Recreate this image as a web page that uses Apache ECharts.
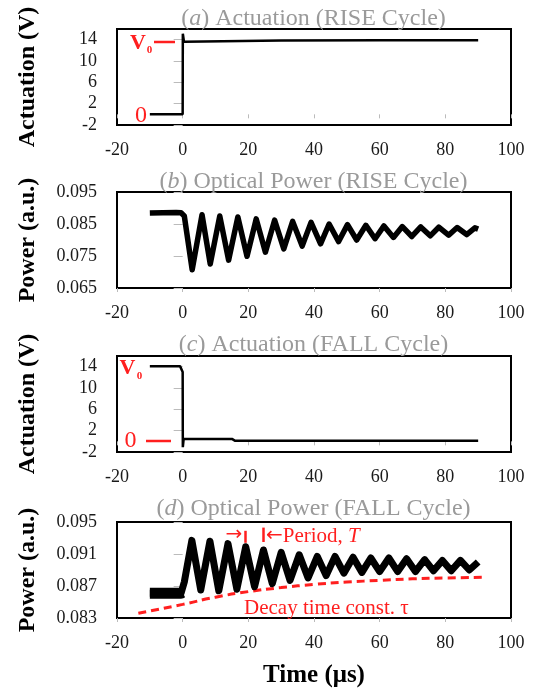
<!DOCTYPE html>
<html><head><meta charset="utf-8">
<script src="https://cdn.jsdelivr.net/npm/echarts@6/dist/echarts.min.js"></script>
<style>html,body{margin:0;padding:0;background:#fff}#c{width:536px;height:691px}</style>
</head><body><div id="c"></div>
<script>
// ---- tick labels ----
const xTicks = [-20, 0, 20, 40, 60, 80, 100];
const actTicks = [-2, 2, 6, 10, 14];
const powRiseTicks = [0.065, 0.075, 0.085, 0.095];
const powFallTicks = [0.083, 0.087, 0.091, 0.095];

// ---- (a) actuation, rise ----
const riseActTime = [-10, 0, 0.05, 0.4, 1, 30, 60, 90];
const riseActVolt = [0, 0, 15.1, 13.6, 13.9, 13.85, 13.9, 13.9];

// ---- (b) optical power, rise ----
const riseOptTime = [-10, -2, -0.5, 0.5, 2.9, 5.9, 8.4, 11.3, 14.0, 16.8, 19.6, 22.4, 25.2, 28.0, 30.8, 33.5, 36.4, 39.1, 42.0, 44.6, 47.5, 50.2, 53.0, 55.8, 58.6, 61.3, 64.2, 66.9, 69.8, 72.5, 75.4, 78.0, 81.0, 83.6, 86.5, 89.0, 90];
const riseOptPow = [0.0884, 0.0886, 0.0885, 0.0875, 0.0707, 0.0879, 0.0725, 0.0875, 0.0737, 0.0872, 0.0749, 0.0866, 0.0762, 0.0862, 0.0772, 0.0858, 0.0781, 0.0855, 0.0788, 0.0850, 0.0795, 0.0848, 0.0800, 0.0846, 0.0804, 0.0844, 0.0808, 0.0842, 0.0811, 0.0841, 0.0813, 0.0840, 0.0815, 0.0839, 0.0817, 0.0838, 0.0834];

// ---- (c) actuation, fall ----
const fallActTime = [-10, -0.8, -0.2, 0, 0.05, 0.3, 15, 16, 50, 90];
const fallActVolt = [14.1, 14.1, 13.8, 13, -1.1, 0.45, 0.45, 0.1, 0.1, 0.1];

// ---- (d) optical power, fall ----
const fallOptTime = [-10, -0.5, 0, 0.5, 2.8, 5.5, 8.3, 11.0, 13.8, 16.5, 19.2, 21.9, 24.6, 27.3, 30.0, 32.7, 35.5, 38.2, 41.0, 43.7, 46.4, 49.1, 51.9, 54.6, 57.3, 60.0, 62.8, 65.5, 68.2, 70.9, 73.7, 76.4, 79.1, 81.8, 84.6, 87.3, 90];
const fallOptPow = [0.0861, 0.0861, 0.0862, 0.0875, 0.0927, 0.0865, 0.0926, 0.0864, 0.0923, 0.0866, 0.0919, 0.0869, 0.0915, 0.0873, 0.0912, 0.0877, 0.0909, 0.0880, 0.0907, 0.0883, 0.0907, 0.0886, 0.0906, 0.0887, 0.0905, 0.0888, 0.0905, 0.0888, 0.0904, 0.0888, 0.0903, 0.0889, 0.0902, 0.0889, 0.0902, 0.0890, 0.0900];

// ---- decay envelope (dashed) ----
const decayTime = [-13.5, 0, 10, 20, 30, 40, 50, 60, 70, 80, 91.5];
const decayPow = [0.0836, 0.0847, 0.0856, 0.0863, 0.0868, 0.0872, 0.0875, 0.0877, 0.0879, 0.0880, 0.0881];

// ---- period markers ----
const periodMarkTime = [19.2, 24.6];
const periodMarkTop = [0.0939, 0.0943];
const periodMarkBottom = [0.0924, 0.0925];

const zip = (a, b) => a.map((v, i) => [v, b[i]]);
const SERIF = "'Liberation Serif','Times New Roman',serif";
const RED = '#ff1f1f';

const chart = echarts.init(document.getElementById('c'), null, {renderer: 'canvas'});

const gridTops = [29, 192, 356, 522];
const grids = gridTops.map(t => ({
  left: 117, right: 25, top: t, height: 96,
  show: true, borderColor: '#000', borderWidth: 2, backgroundColor: 'transparent'
}));

const xAxes = gridTops.map((t, i) => ({
  type: 'value', gridIndex: i, min: -20, max: 100, interval: 20,
  axisLine: {show: false},
  axisTick: {show: true, length: 4, lineStyle: {color: '#bbb', width: 1}, customValues: xTicks},
  axisLabel: {fontFamily: SERIF, fontSize: 18, color: '#1a1a1a', margin: 16, customValues: xTicks,
    formatter: v => String(v)},
  splitLine: {show: false},
  name: i === 3 ? 'Time (\u03bcs)' : '',
  nameLocation: 'middle', nameGap: 45,
  nameTextStyle: {fontFamily: SERIF, fontSize: 25, fontWeight: 'bold', color: '#000'}
}));

function yAxis(i, min, max, interval, ticks, name, fmt) {
  return {
    type: 'value', gridIndex: i, min: min, max: max, interval: interval,
    axisLine: {show: false},
    axisTick: {show: true, length: 9, lineStyle: {color: '#bbb', width: 1}, customValues: ticks},
    axisLabel: {fontFamily: SERIF, fontSize: 18, color: '#1a1a1a', margin: 20, customValues: ticks,
      formatter: v => (ticks.some(t => Math.abs(t - v) < 1e-9) ? fmt(v) : '')},
    splitLine: {show: false},
    name: name, nameLocation: 'middle', nameRotate: 90, nameGap: 77,
    nameTextStyle: {fontFamily: SERIF, fontSize: 24, fontWeight: 'bold', color: '#000'}
  };
}

const yAxes = [
  yAxis(0, -2, 16, 4, actTicks, 'Actuation (V)', v => String(v)),
  yAxis(1, 0.065, 0.095, 0.01, powRiseTicks, 'Power (a.u.)', v => v.toFixed(3)),
  yAxis(2, -2, 16, 4, actTicks, 'Actuation (V)', v => String(v)),
  yAxis(3, 0.083, 0.095, 0.004, powFallTicks, 'Power (a.u.)', v => v.toFixed(3))
];

const lineBase = {type: 'line', symbol: 'none', silent: true, animation: false};
const fallPre = zip(fallOptTime, fallOptPow).filter(p => p[0] <= 0);

const series = [
  Object.assign({}, lineBase, {xAxisIndex: 0, yAxisIndex: 0, data: zip(riseActTime, riseActVolt),
    lineStyle: {color: '#000', width: 2.5}}),
  Object.assign({}, lineBase, {xAxisIndex: 1, yAxisIndex: 1, data: zip(riseOptTime, riseOptPow),
    lineStyle: {color: '#000', width: 5.5, join: 'round'}}),
  Object.assign({}, lineBase, {xAxisIndex: 2, yAxisIndex: 2, data: zip(fallActTime, fallActVolt),
    lineStyle: {color: '#000', width: 2.5}}),
  Object.assign({}, lineBase, {xAxisIndex: 3, yAxisIndex: 3, data: zip(fallOptTime, fallOptPow),
    lineStyle: {color: '#000', width: 7, join: 'round'},
    markLine: {silent: true, symbol: ['none', 'none'], animation: false,
      lineStyle: {color: RED, width: 2.5, type: 'solid'}, label: {show: false},
      data: periodMarkTime.map((t, k) => [{coord: [t, periodMarkTop[k]]}, {coord: [t, periodMarkBottom[k]]}])}}),
  Object.assign({}, lineBase, {xAxisIndex: 3, yAxisIndex: 3, data: fallPre,
    lineStyle: {color: '#000', width: 11}}),
  Object.assign({}, lineBase, {xAxisIndex: 3, yAxisIndex: 3, data: zip(decayTime, decayPow), smooth: true,
    lineStyle: {color: RED, width: 3, type: [8, 5]}, z: 1})
];

function txt(x, y, text, opts) {
  const s = Object.assign({text: text, x: x, y: y, fill: '#000', fontFamily: SERIF, fontSize: 20,
    align: 'center', verticalAlign: 'middle'}, opts || {});
  s.textAlign = s.align;
  s.textVerticalAlign = s.verticalAlign;
  return {type: 'text', silent: true, style: s, z: 100};
}
function seg(x1, y1, x2, y2, color, w) {
  return {type: 'line', silent: true, shape: {x1, y1, x2, y2}, style: {stroke: color, lineWidth: w}, z: 100};
}

const GRAY = '#9a9a9a';
const titleRich = {i: {fontStyle: 'italic', fontFamily: SERIF, fontSize: 24, fill: GRAY}};
const titles = [
  ['a', ') Actuation (RISE Cycle)', 19],
  ['b', ') Optical Power (RISE Cycle)', 182],
  ['c', ') Actuation (FALL Cycle)', 345],
  ['d', ') Optical Power (FALL Cycle)', 509]
];
const graphics = titles.map(t => txt(313.5, t[2], '({i|' + t[0] + '}' + t[1],
  {fontSize: 24, fill: GRAY, rich: titleRich}));

// Panel (a) annotations
graphics.push(txt(138, 43, 'V', {fill: RED, fontSize: 22, fontWeight: 'bold'}));
graphics.push(txt(149.5, 50, '0', {fill: RED, fontSize: 11, fontWeight: 'bold'}));
graphics.push(seg(154, 42, 175, 42, RED, 2.5));
graphics.push(txt(141, 116, '0', {fill: RED, fontSize: 24}));
// Panel (c) annotations
graphics.push(txt(127.5, 368, 'V', {fill: RED, fontSize: 22, fontWeight: 'bold'}));
graphics.push(txt(139.5, 376, '0', {fill: RED, fontSize: 11, fontWeight: 'bold'}));
graphics.push(txt(130.5, 441, '0', {fill: RED, fontSize: 24}));
graphics.push(seg(146, 441, 171, 441, RED, 2.5));
// Panel (d) annotations
graphics.push(txt(234, 535, '\u2192', {fill: RED, fontSize: 20, fontFamily: "'DejaVu Sans',sans-serif"}));
graphics.push(txt(266, 536, '{a|\u2190}Period, {i|T}', {fill: RED, fontSize: 21, align: 'left',
  rich: {i: {fontStyle: 'italic', fontFamily: SERIF, fontSize: 21, fill: RED},
         a: {fontFamily: "'DejaVu Sans',sans-serif", fontSize: 20, fill: RED}}}));
graphics.push(txt(244, 608, 'Decay time const. \u03c4', {fill: RED, fontSize: 21, align: 'left'}));

chart.setOption({
  animation: false,
  backgroundColor: '#fff',
  grid: grids,
  xAxis: xAxes,
  yAxis: yAxes,
  series: series,
  graphic: graphics
});
</script>
</body></html>
